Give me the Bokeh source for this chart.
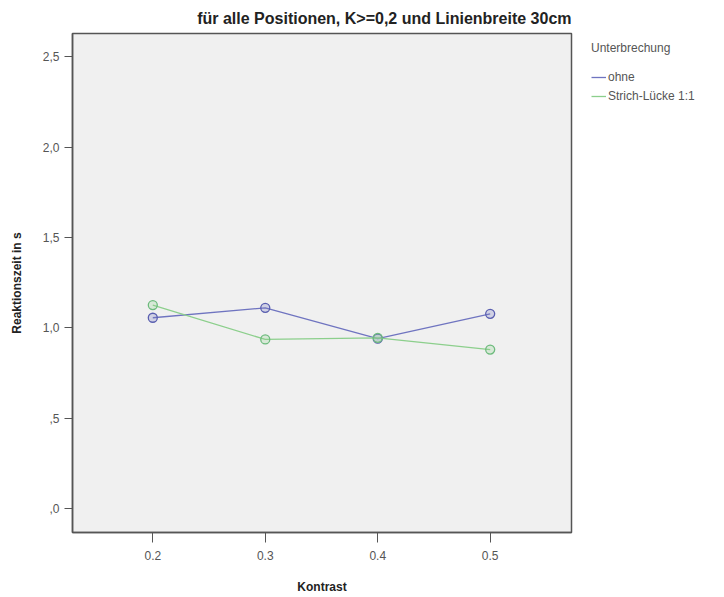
from bokeh.plotting import figure
from bokeh.models import FixedTicker, Legend, LegendItem, Range1d
from bokeh.embed import file_html
from bokeh.resources import INLINE

kontrast = [0.2, 0.3, 0.4, 0.5]
x_labels = ["0.2", "0.3", "0.4", "0.5"]
ohne = [1.056, 1.111, 0.940, 1.078]
strich_luecke = [1.126, 0.936, 0.945, 0.880]
y_ticks = [0.0, 0.5, 1.0, 1.5, 2.0, 2.5]
y_labels = [",0", ",5", "1,0", "1,5", "2,0", "2,5"]

p = figure(frame_width=499, frame_height=499, output_backend="svg", toolbar_location=None,
           x_range=Range1d(0.1286, 0.5723), y_range=Range1d(-0.133, 2.63),
           min_border_left=72, min_border_right=140, min_border_top=33, min_border_bottom=58,
           background_fill_color="#f0f0f0", border_fill_color="white")
p.outline_line_color = "#555555"
p.outline_line_width = 1.5
p.grid.visible = False

p.title.text = "für alle Positionen, K>=0,2 und Linienbreite 30cm"
p.title.align = "right"
p.title.text_font = "Liberation Sans"
p.title.text_font_style = "bold"
p.title.text_font_size = "16px"
p.title.text_color = "#222222"
p.title.standoff = 14

blue = "#6f74c0"
green = "#8ccf8c"
r1 = p.line(kontrast, ohne, line_color=blue, line_width=1.3)
p.scatter(kontrast, ohne, size=9, marker="circle", line_color="#5a5fb0", fill_color=blue, fill_alpha=0.25, line_width=1.3)
r2 = p.line(kontrast, strich_luecke, line_color=green, line_width=1.3)
p.scatter(kontrast, strich_luecke, size=9, marker="circle", line_color="#6dbb7d", fill_color=green, fill_alpha=0.25, line_width=1.3)

for ax in (p.xaxis[0], p.yaxis[0]):
    ax.axis_line_color = "#555555"
    ax.axis_line_width = 1.5
    ax.major_tick_line_color = "#555555"
    ax.major_tick_in = 0
    ax.minor_tick_line_color = None
    ax.major_label_text_font = "Liberation Sans"
    ax.major_label_text_font_size = "12px"
    ax.major_label_text_color = "#555555"
    ax.axis_label_text_font = "Liberation Sans"
    ax.axis_label_text_font_style = "bold"
    ax.axis_label_text_font_size = "12px"
    ax.axis_label_text_color = "#222222"

p.xaxis.ticker = FixedTicker(ticks=kontrast)
p.xaxis.major_label_overrides = {k: l for k, l in zip(kontrast, x_labels)}
p.xaxis.major_tick_out = 10
p.xaxis.major_label_standoff = 8
p.xaxis.axis_label = "Kontrast"
p.xaxis.axis_label_standoff = 17

p.yaxis.ticker = FixedTicker(ticks=y_ticks)
p.yaxis.major_label_overrides = {k: l for k, l in zip(y_ticks, y_labels)}
p.yaxis.major_tick_out = 8
p.yaxis.axis_label = "Reaktionszeit in s"
p.yaxis.axis_label_standoff = 16

legend = Legend(items=[LegendItem(label="ohne", renderers=[r1]),
                       LegendItem(label="Strich-Lücke 1:1", renderers=[r2])],
                title="Unterbrechung", location=(20, 428),
                border_line_color=None, background_fill_alpha=0,
                label_text_font="Liberation Sans", label_text_font_size="12px",
                label_text_color="#555555", title_text_font="Liberation Sans",
                title_text_font_size="12px", title_text_color="#555555",
                title_text_font_style="normal", glyph_width=15, glyph_height=16,
                label_standoff=2, spacing=3, title_standoff=14, margin=0, padding=0)
p.add_layout(legend, "right")

open("out.html", "w").write(file_html(p, INLINE))
